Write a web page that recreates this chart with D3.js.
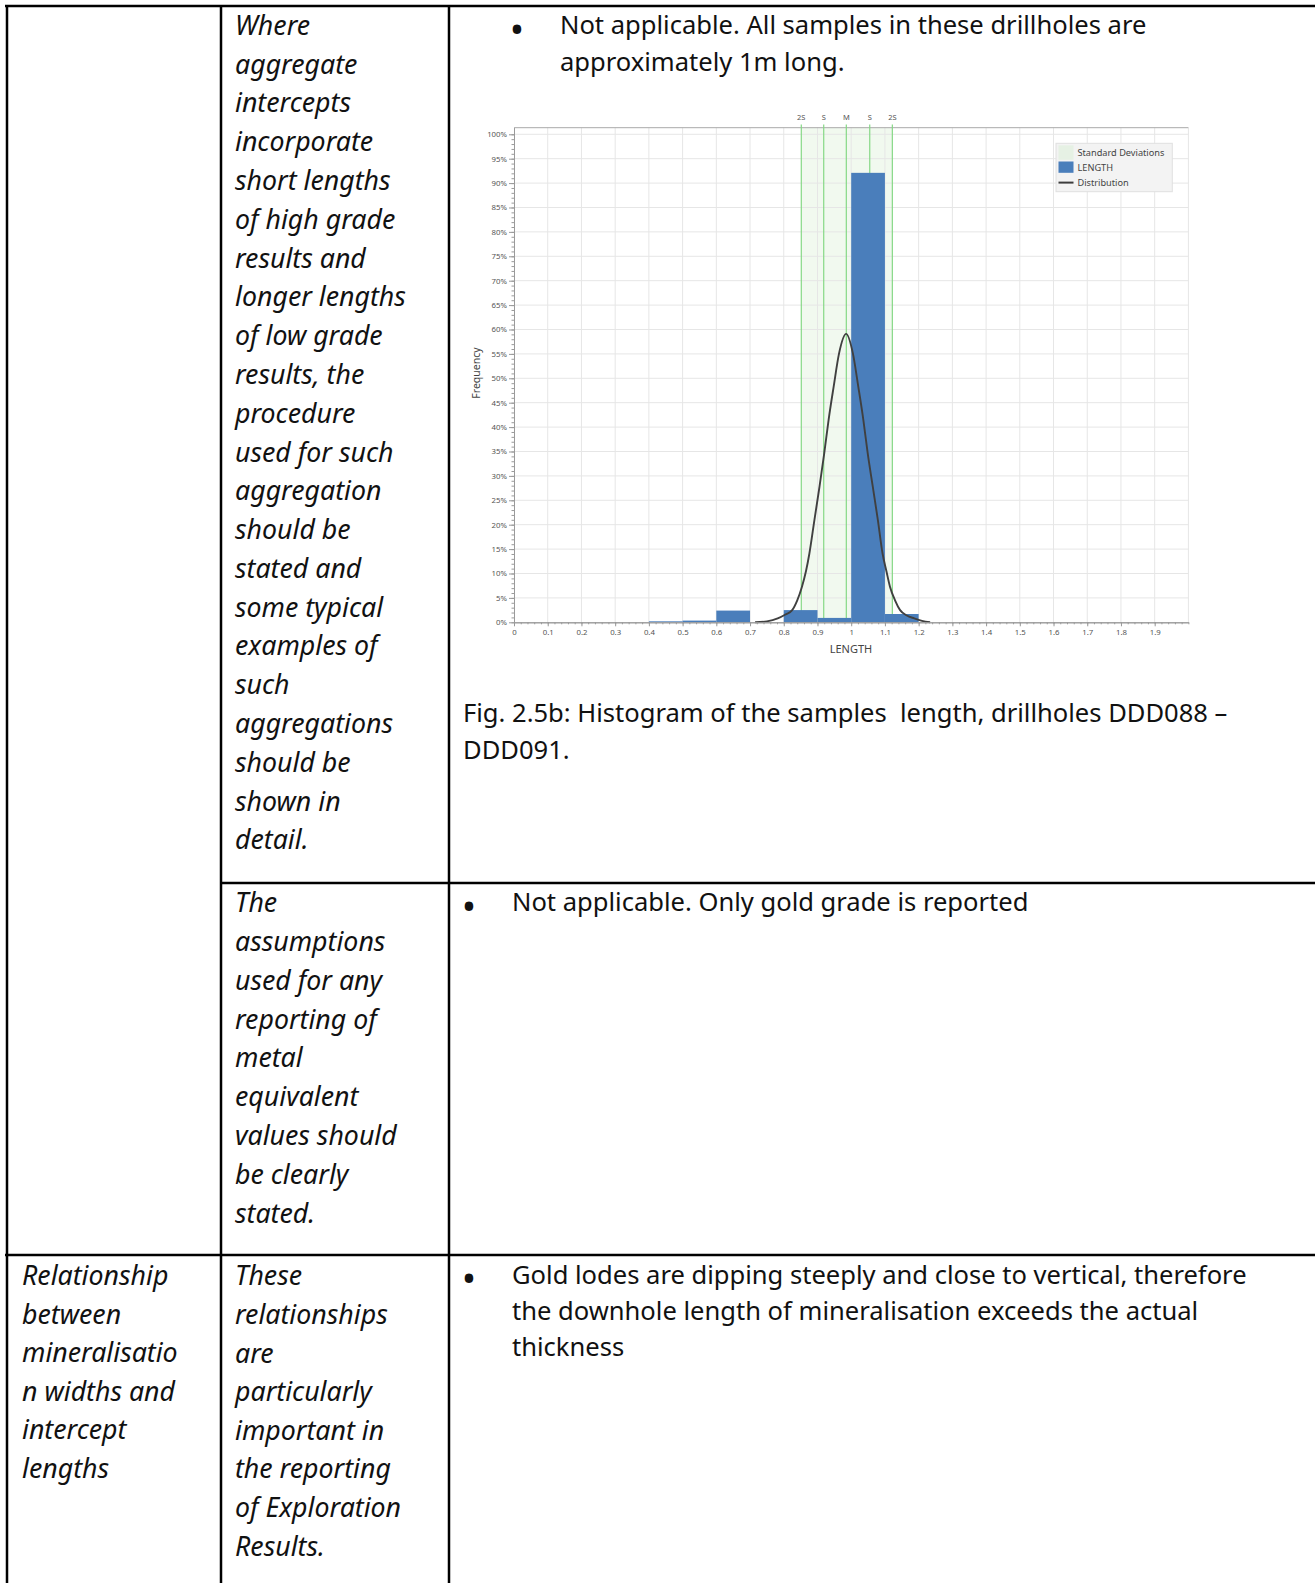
<!DOCTYPE html>
<html><head><meta charset="utf-8">
<script src="https://cdn.jsdelivr.net/npm/d3@7"></script>
<style>
html,body{margin:0;padding:0;background:#fff;}
svg{display:block;}
text{white-space:pre;}
</style></head><body>
<svg id="page" width="1315" height="1583"></svg>
<script>
// ---------------- DATA ----------------
const binLo   = [0.4, 0.5, 0.6, 0.7, 0.8, 0.9, 1.0, 1.1];
const binHi   = [0.5, 0.6, 0.7, 0.8, 0.9, 1.0, 1.1, 1.2];
const binFreq = [0.2, 0.35, 2.4, 0, 2.5, 0.9, 92.1, 1.7];   // percent

const distX = [0.715,0.750,0.782,0.805,0.825,0.840,0.854,0.866,0.876,0.891,0.906,0.920,0.933,0.948,0.964,0.985,
               1.005,1.021,1.036,1.049,1.064,1.079,1.093,1.105,1.115,1.130,1.145,1.165,1.187,1.210,1.234];
const distY = [0.0,0.2,0.8,1.6,2.5,4.5,7.3,10.5,14.1,21.0,27.8,34.6,41.5,48.3,55.1,59.1,
               55.1,48.3,41.5,34.6,27.8,21.0,14.1,10.3,7.3,4.5,2.5,1.4,0.8,0.3,0.0];

const sdLabels = ["2S","S","M","S","2S"];
const sdValues = [0.852, 0.9185, 0.9855, 1.055, 1.122];

const xTickValues = [0,0.1,0.2,0.3,0.4,0.5,0.6,0.7,0.8,0.9,1.0,1.1,1.2,1.3,1.4,1.5,1.6,1.7,1.8,1.9];
const xTickLabels = ["0","0.1","0.2","0.3","0.4","0.5","0.6","0.7","0.8","0.9","1","1.1","1.2","1.3","1.4","1.5","1.6","1.7","1.8","1.9"];
const yTickValues = [0,5,10,15,20,25,30,35,40,45,50,55,60,65,70,75,80,85,90,95,100];
const yTickLabels = ["0%","5%","10%","15%","20%","25%","30%","35%","40%","45%","50%","55%","60%","65%","70%","75%","80%","85%","90%","95%","100%"];
const legendLabels = ["Standard Deviations","LENGTH","Distribution"];
const xTitle = "LENGTH";
const yTitle = "Frequency";

// table text
const r1c2 = ["Where","aggregate","intercepts","incorporate","short lengths","of high grade","results and","longer lengths","of low grade","results, the","procedure","used for such","aggregation","should be","stated and","some typical","examples of","such","aggregations","should be","shown in","detail."];
const r1c3 = ["Not applicable. All samples in these drillholes are","approximately 1m long."];
const captionLines = ["Fig. 2.5b: Histogram of the samples  length, drillholes DDD088 –","DDD091."];
const r2c2 = ["The","assumptions","used for any","reporting of","metal","equivalent","values should","be clearly","stated."];
const r2c3 = ["Not applicable. Only gold grade is reported"];
const r3c1 = ["Relationship","between","mineralisatio","n widths and","intercept","lengths"];
const r3c2 = ["These","relationships","are","particularly","important in","the reporting","of Exploration","Results."];
const r3c3 = ["Gold lodes are dipping steeply and close to vertical, therefore","the downhole length of mineralisation exceeds the actual","thickness"];

// ---------------- PAGE ----------------
const svg = d3.select("#page");
const F = "'Noto Sans', 'Open Sans', sans-serif";

function measure(str, style){
  const t = svg.append("text").attr("font-family",F).attr("font-size",100).attr("font-style",style).text(str);
  const w = t.node().getComputedTextLength(); t.remove(); return w;
}
const fsReg = 100*734.7/measure(r3c3[0],"normal");
const fsIt  = 100*((161.5/measure("of Exploration","italic")) + (162.5/measure("aggregations","italic")))/2;

function block(lines, x, y0, step, italic, fs){
  svg.append("g").selectAll("text").data(lines).join("text")
    .attr("x", x).attr("y", (d,i)=> y0 + i*step + 0.36*fs)
    .attr("font-family",F).attr("font-size",fs)
    .attr("font-style", italic ? "italic" : "normal")
    .attr("fill","#111").text(d=>d);
}
function bullet(x, yc, fs){
  const fb = fs*1.5;
  svg.append("text").attr("x",x).attr("y",yc + 0.41*fb).attr("text-anchor","middle")
    .attr("font-family",F).attr("font-size",fb).attr("fill","#111").text("•");
}

// text blocks
block(r1c2, 235, 25.2, 38.79, true, fsIt);
bullet(517, 27.5, fsReg);
block(r1c3, 560, 25.2, 36.3, false, fsReg);
block(captionLines, 463, 712.5, 37.3, false, fsReg);
block(r2c2, 235, 902.2, 38.9, true, fsIt);
bullet(469, 904, fsReg);
block(r2c3, 512, 902.2, 36.3, false, fsReg);
block(r3c1, 22, 1275.6, 38.56, true, fsIt);
block(r3c2, 235, 1275.6, 38.64, true, fsIt);
bullet(469, 1276.6, fsReg);
block(r3c3, 512, 1274.6, 36.35, false, fsReg);

// table borders
const borders = [
  [5,6,1315,6],[7,5,7,1583],[221,5,221,1583],[449,5,449,1583],
  [221,883,1315,883],[5,1255,1315,1255]
];
svg.append("g").selectAll("line").data(borders).join("line")
  .attr("x1",d=>d[0]).attr("y1",d=>d[1]).attr("x2",d=>d[2]).attr("y2",d=>d[3])
  .attr("stroke","#000").attr("stroke-width",2.5);

// ---------------- CHART ----------------
const plotL = 514, plotR = 1188.4, plotT = 127.7, plotB = 622.3;
const x = d3.scaleLinear([0,2],[plotL,plotR]);
const y = d3.scaleLinear([0,101.35],[plotB,plotT]);
const g = svg.append("g").attr("font-family",F);

// sd shading
g.append("rect").attr("x",x(sdValues[0])).attr("width",x(sdValues[4])-x(sdValues[0]))
  .attr("y",plotT).attr("height",plotB-plotT).attr("fill","#f1f9ef");

// grid
const gridX = xTickValues.slice(1).concat([2.0]);
g.append("g").selectAll("line").data(gridX).join("line")
  .attr("x1",d=>x(d)).attr("x2",d=>x(d)).attr("y1",plotT).attr("y2",plotB)
  .attr("stroke","#e6e6e6").attr("stroke-width",1);
g.append("g").selectAll("line").data(yTickValues.slice(1)).join("line")
  .attr("x1",plotL).attr("x2",plotR).attr("y1",d=>y(d)).attr("y2",d=>y(d))
  .attr("stroke","#e6e6e6").attr("stroke-width",1);
// top border
g.append("line").attr("x1",plotL).attr("x2",plotR).attr("y1",plotT).attr("y2",plotT)
  .attr("stroke","#a9a9a9").attr("stroke-width",1);

// sd lines
g.append("g").selectAll("line").data(sdValues).join("line")
  .attr("x1",d=>x(d)).attr("x2",d=>x(d)).attr("y1",124.5).attr("y2",plotB)
  .attr("stroke","#86d886").attr("stroke-width",1.2);
g.append("g").selectAll("text").data(sdLabels).join("text")
  .attr("x",(d,i)=>x(sdValues[i])).attr("y",120).attr("text-anchor","middle")
  .attr("font-size",7.5).attr("fill","#555").text(d=>d);

// bars
g.append("g").selectAll("rect").data(binFreq).join("rect")
  .attr("x",(d,i)=>x(binLo[i])).attr("width",(d,i)=>x(binHi[i])-x(binLo[i]))
  .attr("y",d=>y(d)).attr("height",d=>y(0)-y(d))
  .attr("fill","#4a7ebb");

// distribution curve
const line = d3.line().x(d=>x(d[0])).y(d=>y(d[1])).curve(d3.curveMonotoneX);
g.append("path").datum(distX.map((v,i)=>[v,distY[i]])).attr("d",line)
  .attr("fill","none").attr("stroke","#404040").attr("stroke-width",1.9);

// axes
const axL = g.append("g").attr("transform",`translate(${plotL},0)`)
  .call(d3.axisLeft(y).tickValues(yTickValues).tickFormat((d,i)=>yTickLabels[i]).tickSize(5).tickSizeOuter(0).tickPadding(2));
const axLm = g.append("g").attr("transform",`translate(${plotL},0)`)
  .call(d3.axisLeft(y).tickValues(d3.range(0,101,1)).tickFormat("").tickSize(2.5).tickSizeOuter(0));
const axB = g.append("g").attr("transform",`translate(0,${plotB})`)
  .call(d3.axisBottom(x).tickValues(xTickValues).tickFormat((d,i)=>xTickLabels[i]).tickSize(4).tickSizeOuter(0).tickPadding(3));
const axBm = g.append("g").attr("transform",`translate(0,${plotB})`)
  .call(d3.axisBottom(x).tickValues(d3.range(0,101,1).map(i=>i/50)).tickFormat("").tickSize(2).tickSizeOuter(0));
[axL,axLm,axB,axBm].forEach(a=>{
  a.selectAll("path").attr("stroke","#9a9a9a");
  a.selectAll("line").attr("stroke","#9a9a9a");
  a.selectAll("text").attr("font-family",F).attr("font-size",7.8).attr("fill","#555");
});

// titles
g.append("text").attr("x",851).attr("y",653).attr("text-anchor","middle")
  .attr("font-size",11).attr("fill","#444").text(xTitle);
g.append("text").attr("transform","translate(480,373) rotate(-90)").attr("text-anchor","middle")
  .attr("font-size",10.5).attr("fill","#444").text(yTitle);

// legend
const lg = g.append("g");
lg.append("rect").attr("x",1056).attr("y",143.3).attr("width",116.3).attr("height",48.4)
  .attr("fill","#f3f3f3").attr("stroke","#e0e0e0");
const rowY = [152.3,167.3,182.6];
lg.append("rect").attr("x",1058.5).attr("y",145.3).attr("width",15).attr("height",14.5).attr("fill","#e6f1e4");
lg.append("rect").attr("x",1058.5).attr("y",161.5).attr("width",15).attr("height",11.3).attr("fill","#4a7ebb");
lg.append("line").attr("x1",1058.5).attr("x2",1073.5).attr("y1",rowY[2]).attr("y2",rowY[2])
  .attr("stroke","#3c3c3c").attr("stroke-width",2);
lg.selectAll("text").data(legendLabels).join("text")
  .attr("x",1077.5).attr("y",(d,i)=>rowY[i]+3.3).attr("font-size",9.2).attr("fill","#444").text(d=>d);
</script>
</body></html>
